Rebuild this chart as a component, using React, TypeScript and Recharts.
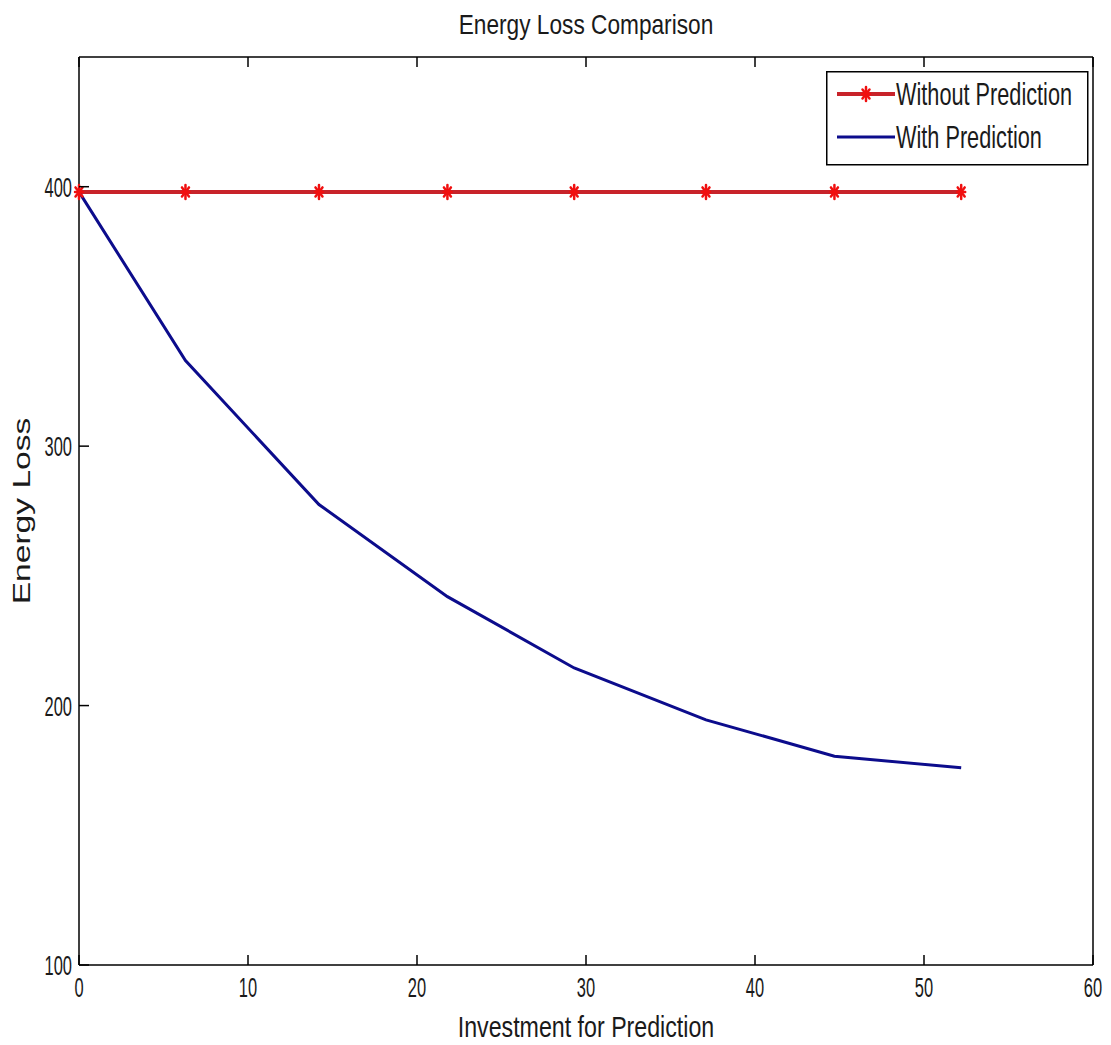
import React from "react";
import { LineChart, Line, XAxis, YAxis, Legend } from "recharts";

// values
const investment = [0, 6.3, 14.2, 21.8, 29.3, 37.1, 44.7, 52.2];
const withoutPrediction = [398, 398, 398, 398, 398, 398, 398, 398];
const withPrediction = [398, 333, 277.5, 242, 214.5, 194.5, 180.5, 176];
const xTicks = [0, 10, 20, 30, 40, 50, 60];
const yTicks = [100, 200, 300, 400];

const data = investment.map((x, i) => ({
  x,
  without: withoutPrediction[i],
  with: withPrediction[i],
}));

const FONT = "'Liberation Sans', Arial, sans-serif";
const RED_LINE = "#c8232a";
const RED_MARK = "#f01010";
const BLUE = "#0c0c8c";
const TICK_LEN = 10;

// narrow, tall text like the stretched MATLAB export
function StretchText({ x, y, sx = 1, rotate = 0, anchor = "middle", size, children }: any) {
  return (
    <text
      transform={`translate(${x},${y}) rotate(${rotate}) scale(${sx},1)`}
      textAnchor={anchor}
      fontFamily={FONT}
      fontSize={size}
      fill="#1a1a1a"
    >
      {children}
    </text>
  );
}

const BottomTick = (props: any) => {
  const { x, y, payload } = props;
  return (
    <g>
      <line x1={x} y1={y} x2={x} y2={y - TICK_LEN} stroke="#000" strokeWidth={1.5} />
      <StretchText x={x} y={y + 32} sx={0.61} size={27}>
        {payload.value}
      </StretchText>
    </g>
  );
};

const TopTick = (props: any) => {
  const { x, y } = props;
  return <line x1={x} y1={y} x2={x} y2={y + TICK_LEN} stroke="#000" strokeWidth={1.5} />;
};

const LeftTick = (props: any) => {
  const { x, y, payload } = props;
  return (
    <g>
      <line x1={x} y1={y} x2={x + TICK_LEN} y2={y} stroke="#000" strokeWidth={1.5} />
      <StretchText x={x - 7} y={y + 10} sx={0.61} size={27} anchor="end">
        {payload.value}
      </StretchText>
    </g>
  );
};

const RightTick = (props: any) => {
  const { x, y } = props;
  return <line x1={x} y1={y} x2={x - TICK_LEN} y2={y} stroke="#000" strokeWidth={1.5} />;
};

const Asterisk = ({ cx, cy }: any) => {
  if (cx == null || cy == null) return null;
  return (
    <g stroke={RED_MARK} strokeWidth={2.5} strokeLinecap="round">
      <line x1={cx} y1={cy - 7} x2={cx} y2={cy + 7} />
      <line x1={cx - 4} y1={cy} x2={cx + 4} y2={cy} />
      <line x1={cx - 3.5} y1={cy - 4.5} x2={cx + 3.5} y2={cy + 4.5} />
      <line x1={cx - 3.5} y1={cy + 4.5} x2={cx + 3.5} y2={cy - 4.5} />
    </g>
  );
};

const LegendBox = () => (
  <svg width={263} height={95} style={{ display: "block" }}>
    <rect x={0.75} y={0.75} width={261} height={93} fill="#fff" stroke="#000" strokeWidth={1.5} />
    <line x1={11} y1={23} x2={69} y2={23} stroke={RED_LINE} strokeWidth={4} />
    <Asterisk cx={40} cy={23} />
    <StretchText x={70} y={34} sx={0.7} size={31} anchor="start">
      Without Prediction
    </StretchText>
    <line x1={11} y1={66} x2={69} y2={66} stroke={BLUE} strokeWidth={3} />
    <StretchText x={70} y={77} sx={0.7} size={31} anchor="start">
      With Prediction
    </StretchText>
  </svg>
);

const XLabel = (props: any) => {
  const { viewBox } = props;
  return (
    <StretchText x={viewBox.x + viewBox.width / 2} y={1037} sx={0.8} size={29}>
      Investment for Prediction
    </StretchText>
  );
};

const TitleLabel = (props: any) => {
  const { viewBox } = props;
  return (
    <StretchText x={viewBox.x + viewBox.width / 2} y={34} sx={0.84} size={27}>
      Energy Loss Comparison
    </StretchText>
  );
};

const YLabel = (props: any) => {
  const { viewBox } = props;
  return (
    <StretchText x={30} y={viewBox.y + viewBox.height / 2} rotate={-90} sx={1.4} size={24}>
      Energy Loss
    </StretchText>
  );
};

export default function App() {
  return (
    <div style={{ position: "absolute", left: 0, top: 0, background: "#fff" }}>
      <LineChart
        width={1111}
        height={1045}
        data={data}
        margin={{ top: 56, right: 17, bottom: 0, left: 0 }}
      >
        <XAxis
          dataKey="x"
          type="number"
          domain={[0, 60]}
          ticks={xTicks}
          height={80}
          tickSize={0}
          tickMargin={0}
          tickLine={false}
          tick={<BottomTick />}
          axisLine={{ stroke: "#000", strokeWidth: 1.5 }}
          label={{ content: <XLabel /> }}
        />
        <XAxis
          xAxisId="top"
          orientation="top"
          dataKey="x"
          type="number"
          domain={[0, 60]}
          ticks={xTicks}
          height={1}
          tickSize={0}
          tickMargin={0}
          tickLine={false}
          tick={<TopTick />}
          axisLine={{ stroke: "#000", strokeWidth: 1.5 }}
          label={{ content: <TitleLabel /> }}
        />
        <YAxis
          type="number"
          domain={[100, 450]}
          ticks={yTicks}
          width={79}
          tickSize={0}
          tickMargin={0}
          tickLine={false}
          tick={<LeftTick />}
          axisLine={{ stroke: "#000", strokeWidth: 1.5 }}
          label={{ content: <YLabel /> }}
        />
        <YAxis
          yAxisId="right"
          orientation="right"
          type="number"
          domain={[100, 450]}
          ticks={yTicks}
          width={1}
          tickSize={0}
          tickMargin={0}
          tickLine={false}
          tick={<RightTick />}
          axisLine={{ stroke: "#000", strokeWidth: 1.5 }}
        />
        <Legend
          layout="horizontal"
          verticalAlign="middle"
          align="center"
          content={<LegendBox />}
          wrapperStyle={{ position: "absolute", left: 826, top: 71, width: 263, height: 95 }}
        />
        <Line
          dataKey="without"
          name="Without Prediction"
          type="linear"
          stroke={RED_LINE}
          strokeWidth={4}
          dot={<Asterisk />}
          activeDot={false}
          isAnimationActive={false}
        />
        <Line
          dataKey="with"
          name="With Prediction"
          type="linear"
          stroke={BLUE}
          strokeWidth={3}
          dot={false}
          activeDot={false}
          isAnimationActive={false}
        />
      </LineChart>
    </div>
  );
}
